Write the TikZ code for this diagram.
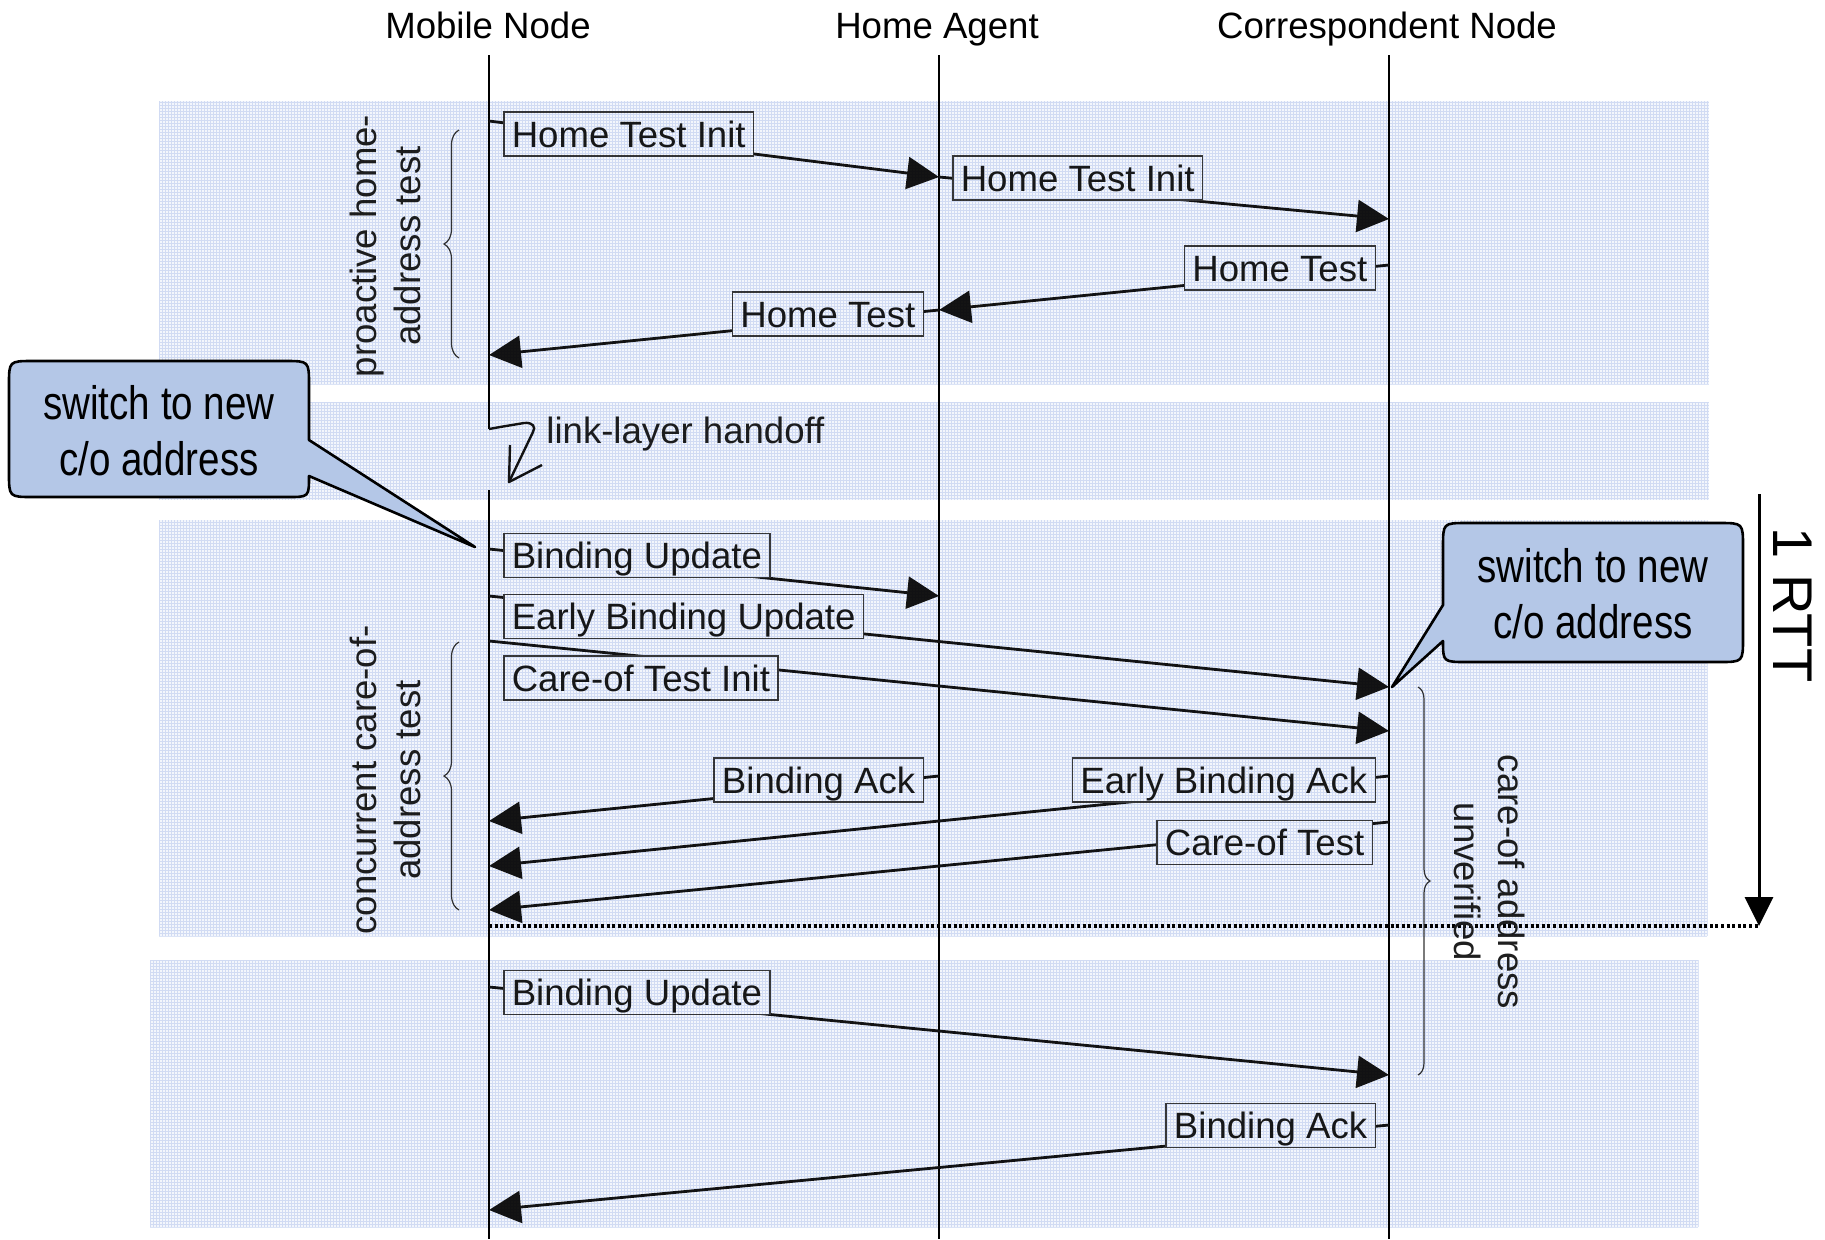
\documentclass[tikz,border=0pt]{standalone}
\usepackage{fontspec}
\setmainfont{Liberation Sans}
\newfontfamily\narrowfont{Liberation Sans}[FakeStretch=0.82]
\usetikzlibrary{arrows.meta,decorations.pathreplacing}

\definecolor{bandfill}{HTML}{F3F6FC}
\definecolor{gridblue}{HTML}{DCE4F6}
\definecolor{calloutfill}{HTML}{B4C7E7}
\definecolor{boxline}{HTML}{3A3A3A}

\tikzset{
  lifeline/.style={line width=1.2pt, black},
  msg/.style={line width=1.4pt, black!92, -{Triangle[length=16pt,width=16pt]}},
  msglabel/.style={draw=boxline, line width=0.75pt, fill=bandfill,
    font=\fontsize{18.3}{22}\selectfont, inner xsep=4pt, inner ysep=2.5pt,
    text height=15pt, text depth=2pt, text=black!90},
  header/.style={font=\fontsize{18.3}{22}\selectfont, inner sep=0pt},
  gridlines/.style={draw=gridblue, line width=0.25pt},
  sidenote/.style={font=\fontsize{18.3}{22}\selectfont, align=center, inner sep=0pt, text=black!88},
  bracemark/.style={decorate, line width=0.6pt, draw=black!80},
  callout/.style={fill=calloutfill, draw=black, line width=1.3pt, line join=round},
  callouttext/.style={font=\narrowfont\fontsize{23.5}{28}\selectfont, align=center, inner sep=0pt},
  handoff/.style={line width=1.2pt, black!92, line join=round},
  rttline/.style={line width=1.5pt, black, -{Triangle[length=14.5pt,width=14pt]}},
  rttdots/.style={line width=1.6pt, black, dash pattern=on 1.5pt off 1.3pt}
}

\begin{document}
\begin{tikzpicture}[x=0.5pt, y=-0.5pt]
\useasboundingbox (0,0) rectangle (1825,1239);

\def\xMN{489}
\def\xHA{939}
\def\xCN{1389}

% shaded phases
\fill[bandfill] (159,101) rectangle (1709,384);
\fill[bandfill] (159,402) rectangle (1709,500);
\fill[bandfill] (159,520) rectangle (1707,936);
\fill[bandfill] (150,960) rectangle (1698,1227);

% entities
\node[header, anchor=base] (mn) at (488,38) {Mobile Node};
\node[header, anchor=base] (ha) at (937,38) {Home Agent};
\node[header, anchor=base] (cn) at (1387,38) {Correspondent Node};

% lifelines (the mobile node's is broken by the handoff)
\coordinate (mn-top) at (\xMN,55);
\coordinate (mn-cut) at (\xMN,429);
\coordinate (mn-resume) at (\xMN,490);
\coordinate (mn-bot) at (\xMN,1239);
\coordinate (ha-top) at (\xHA,55);
\coordinate (ha-bot) at (\xHA,1239);
\coordinate (cn-top) at (\xCN,55);
\coordinate (cn-bot) at (\xCN,1239);
\draw[lifeline] (mn-top) -- (mn-cut);
\draw[lifeline] (mn-resume) -- (mn-bot);
\draw[lifeline] (ha-top) -- (ha-bot);
\draw[lifeline] (cn-top) -- (cn-bot);

% message end points
\coordinate (m1a) at (\xMN,121);  \coordinate (m1b) at (\xHA,177);
\coordinate (m2a) at (\xHA,177);  \coordinate (m2b) at (\xCN,219);
\coordinate (m3a) at (\xCN,265);  \coordinate (m3b) at (\xHA,310);
\coordinate (m4a) at (\xHA,310);  \coordinate (m4b) at (\xMN,355);
\coordinate (m5a) at (\xMN,549);  \coordinate (m5b) at (\xHA,596);
\coordinate (m6a) at (\xMN,596);  \coordinate (m6b) at (\xCN,687);
\coordinate (m7a) at (\xMN,641);  \coordinate (m7b) at (\xCN,731);
\coordinate (m8a) at (\xHA,776);  \coordinate (m8b) at (\xMN,821);
\coordinate (m9a) at (\xCN,776);  \coordinate (m9b) at (\xMN,866);
\coordinate (m10a) at (\xCN,822); \coordinate (m10b) at (\xMN,910);
\coordinate (m11a) at (\xMN,987); \coordinate (m11b) at (\xCN,1075);
\coordinate (m12a) at (\xCN,1125); \coordinate (m12b) at (\xMN,1210);

\foreach \m in {1,...,12} {\draw[msg] (m\m a) -- (m\m b);}

% message labels
\node[msglabel, anchor=west] (l1) at (503,134) {Home Test Init};
\node[msglabel, anchor=west] (l2) at (952,178) {Home Test Init};
\node[msglabel, anchor=east] (l3) at (1376,268) {Home Test};
\node[msglabel, anchor=east] (l4) at (924,314) {Home Test};
\node[msglabel, anchor=west] (l5) at (503,555.5) {Binding Update};
\node[msglabel, anchor=west] (l6) at (503,616.5) {Early Binding Update};
\node[msglabel, anchor=west] (l7) at (503,678) {Care-of Test Init};
\node[msglabel, anchor=east] (l8) at (924,780) {Binding Ack};
\node[msglabel, anchor=east] (l9) at (1376,780) {Early Binding Ack};
\node[msglabel, anchor=east] (l10) at (1373,842.5) {Care-of Test};
\node[msglabel, anchor=west] (l11) at (503,992.5) {Binding Update};
\node[msglabel, anchor=east] (l12) at (1376,1125.5) {Binding Ack};

% link-layer handoff
\coordinate (ho-a) at (500,427);
\coordinate (ho-b) at (524,423);
\coordinate (ho-c) at (533,432);
\coordinate (ho-tip) at (509,482);
\coordinate (ho-arm1) at (510,445);
\coordinate (ho-arm2) at (542,465);
\draw[handoff] (mn-cut) -- (ho-a) -- (ho-b) .. controls (533,422) and (536,427) .. (ho-c) -- (ho-tip);
\draw[handoff] (ho-arm1) -- (ho-tip) -- (ho-arm2);
\node[header, anchor=west, text=black!88] (hotext) at (546,434) {link-layer handoff};

% end of the first round trip
\coordinate (rtt-top) at (1759,494);
\coordinate (rtt-bot) at (1759,926);
\coordinate (dots-start) at (\xMN,926);
\draw[rttdots] (dots-start) -- (rtt-bot);

% phase braces and their captions
\coordinate (b1-lo) at (459,358); \coordinate (b1-hi) at (459,130);
\coordinate (b2-lo) at (459,910); \coordinate (b2-hi) at (459,642);
\coordinate (b3-hi) at (1418,687); \coordinate (b3-lo) at (1418,1075);
\draw[bracemark, decoration={brace, amplitude=7.5pt}] (b1-lo) -- (b1-hi);
\draw[bracemark, decoration={brace, amplitude=7.5pt}] (b2-lo) -- (b2-hi);
\draw[bracemark, decoration={brace, amplitude=6pt}] (b3-hi) -- (b3-lo);
\node[sidenote, rotate=90] (pl) at (385,246) {proactive home-\\address test};
\node[sidenote, rotate=90] (cl) at (385,780) {concurrent care-of-\\address test};
\node[sidenote, rotate=-90] (ul) at (1490,882) {care-of address\\unverified};

% fine grid texture over the shaded phases (multiplied, so dark ink stays dark)
\begin{scope}[x=0.5pt, y=0.5pt, blend mode=multiply]
  \draw[gridlines, step=3] (159,-384) grid (1709,-101);
  \draw[gridlines, step=3] (159,-500) grid (1709,-402);
  \draw[gridlines, step=3] (159,-936) grid (1707,-520);
  \draw[gridlines, step=3] (150,-1227) grid (1698,-960);
\end{scope}

% round-trip time marker
\draw[rttline] (rtt-top) -- (rtt-bot);
\node[font=\fontsize{28}{32}\selectfont, rotate=-90, inner sep=0pt] (rtt) at (1793,605) {1 RTT};

% callouts
\coordinate (cL-tip) at (475,547);
\draw[callout] (33,361) -- (285,361) .. controls (309,361) .. (309,385) -- (309,440)
  -- (cL-tip) -- (309,476) .. controls (309,497) .. (288,497) -- (33,497)
  .. controls (9,497) .. (9,473) -- (9,385) .. controls (9,361) .. (33,361) -- cycle;
\node[callouttext] (callL) at (159,431) {switch to new\\c/o address};

\coordinate (cR-tip) at (1392,687);
\draw[callout] (1467,523) -- (1719,523) .. controls (1743,523) .. (1743,547) -- (1743,638)
  .. controls (1743,662) .. (1719,662) -- (1467,662) .. controls (1443,662) .. (1443,641)
  -- (cR-tip) -- (1443,605) -- (1443,547) .. controls (1443,523) .. (1467,523) -- cycle;
\node[callouttext] (callR) at (1593,594) {switch to new\\c/o address};
\end{tikzpicture}
\end{document}
